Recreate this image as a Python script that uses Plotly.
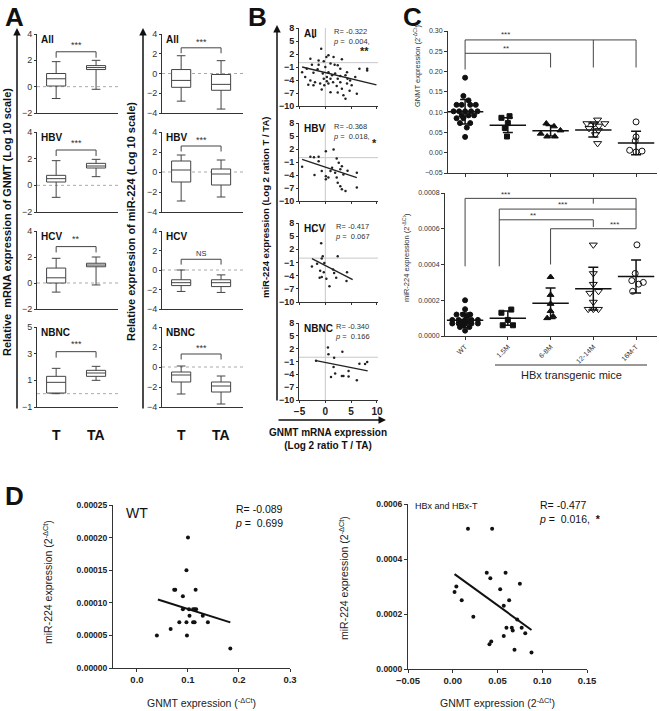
import plotly.graph_objects as go

W, H = 660, 711
FONT = "Liberation Sans, Arial, sans-serif"
INK = "#222222"

# ================= DATA =================
# Panel A : box statistics (All, HBV, HCV, NBNC)
a_groups = ["All", "HBV", "HCV", "NBNC"]
a_cats = ["T", "TA"]
gnmt_T_low = [-0.9, -0.9, -0.7, 0.0]
gnmt_T_q1 = [0.05, 0.25, 0.0, 0.05]
gnmt_T_med = [0.6, 0.5, 0.4, 0.85]
gnmt_T_q3 = [1.0, 0.75, 1.15, 1.3]
gnmt_T_high = [1.9, 1.85, 1.9, 1.9]
gnmt_TA_low = [-0.2, 0.65, -0.15, 1.0]
gnmt_TA_q1 = [1.3, 1.3, 1.25, 1.3]
gnmt_TA_med = [1.45, 1.45, 1.38, 1.55]
gnmt_TA_q3 = [1.6, 1.65, 1.52, 1.75]
gnmt_TA_high = [2.0, 1.95, 2.0, 2.05]
gnmt_sig = ["***", "***", "**", "***"]

mir_T_low = [-2.8, -2.9, -2.2, -2.7]
mir_T_q1 = [-1.4, -1.0, -1.6, -1.5]
mir_T_med = [-0.7, 0.2, -1.3, -0.8]
mir_T_q3 = [0.4, 1.1, -1.0, -0.5]
mir_T_high = [1.8, 1.7, 0.0, 0.1]
mir_TA_low = [-3.6, -2.5, -2.3, -3.7]
mir_TA_q1 = [-1.7, -1.3, -1.7, -2.5]
mir_TA_med = [-1.1, -0.2, -1.3, -1.9]
mir_TA_q3 = [-0.1, 0.3, -1.0, -1.5]
mir_TA_high = [1.3, 1.2, -0.5, -0.9]
mir_sig = ["***", "***", "NS", "***"]

# Panel B : scatter (log2 ratio T/TA)
b_all_x = [-2.3, -0.8, 0.2, 0.6, 1.6, 3.2, -0.3, -1.3, -2.6, -3.6, -4.5, -2.3, -1.5, 0.0, 1.0, 1.8, 2.4, 2.9, 0.6, 1.3,
           1.9, 2.9, 3.9, 4.3, 4.8, 5.8, 6.6, 8.1, -3.9, -2.9, -2.0, -1.0, -0.2, 0.6, 1.5, 2.2, 3.2, 4.2, 5.1, 6.1,
           3.5, 3.9, 2.4, 1.0, -0.7, -2.3, -3.3, 0.3, -0.5, 2.4, 4.2, -2.9, -1.3, 1.0, 0.3, -0.3, 2.9, 4.7, 8.1]
b_all_y = [5.9, 3.2, 1.3, 1.7, 1.3, 0.8, 0.3, -0.5, -0.5, -1.4, -2.2, -2.3, -1.5, -1.0, -0.2, -0.5, -0.6, -1.4, -2.2, -2.9,
           -2.5, -3.1, -2.9, -3.7, -4.1, -3.3, -1.4, -1.4, -3.3, -4.1, -4.5, -4.8, -5.2, -4.8, -4.5, -5.4, -6.0, -4.8, -5.2, -7.2,
           -7.5, -8.3, -6.9, -6.8, -6.2, -5.2, -5.1, -3.3, -2.5, -3.7, -2.2, 0.9, 0.5, -3.7, -4.3, -3.7, -4.5, -6.5, -1.8]
b_hbv_x = [-4.5, -2.9, -2.2, -1.3, -2.1, -1.3, 0.1, 1.6, 0.1, 0.1, 1.0, 1.3, 2.2, 2.6, 2.9, 3.2, 1.9, 2.2, 2.4, 2.9,
           3.2, 3.9, 4.3, 6.1, 6.1, 3.5, 0.6, -0.7]
b_hbv_y = [-2.1, 0.2, 0.1, 0.2, -4.0, -0.8, 1.5, 1.9, -4.3, -5.0, -3.1, -2.3, -0.2, -1.2, -2.7, -2.0, -3.5, -4.6, -5.8, -6.6,
           -7.3, -7.7, -3.0, -3.5, -6.9, -3.9, -4.6, -3.1]
b_hcv_x = [-2.3, -0.8, -0.5, -0.7, 2.4, -2.6, -1.6, -0.2, 1.5, 1.7, -1.0, -0.3, -1.1, -0.7, 0.2, 0.8, 2.1, 4.2, 4.1]
b_hcv_y = [6.2, 3.4, 0.4, -0.1, 0.4, -1.9, -1.3, -1.1, -2.6, -3.4, -2.9, -3.2, -4.5, -4.3, -4.7, -6.4, -4.5, -3.2, -5.2]
b_nbnc_x = [0.5, 0.6, 3.3, 1.7, -1.8, 1.6, 1.9, 1.1, 3.2, 3.5, 4.5, 4.5, 6.1, 6.6, 7.7, 8.1]
b_nbnc_y = [2.3, 0.7, 1.3, -0.1, -0.8, -2.3, -3.8, -4.6, -4.4, -4.4, -3.2, -4.5, -5.4, -1.5, -1.6, -1.1]
b_fit_x0 = [-4.5, -4.5, -2.6, -1.8]
b_fit_y0 = [-1.0, -0.4, -0.1, -0.8]
b_fit_x1 = [9.9, 6.1, 5.3, 8.2]
b_fit_y1 = [-5.1, -4.6, -4.9, -3.2]
b_r = ["-0.322", "-0.368", "-0.417", "-0.340"]
b_p = ["0.004,", "0.018,", "0.067", "0.166"]
b_sig = ["**", "*", "", ""]

# Panel C : mouse groups
c_groups = ["WT", "1.5M", "6-8M", "12-14M", "16M-T"]
gnmt_wt = [0.185, 0.140, 0.129, 0.118, 0.118, 0.118, 0.118, 0.102, 0.102, 0.102, 0.102, 0.102, 0.092, 0.092, 0.092,
           0.085, 0.085, 0.073, 0.073, 0.062, 0.039]
gnmt_wt_dx = [0.0, -0.04, 0.08, -0.2, -0.08, 0.12, 0.25, -0.27, -0.14, 0.0, 0.14, 0.29, -0.08, 0.08, 0.21,
              -0.2, -0.04, -0.12, 0.12, 0.04, 0.0]
gnmt_15m = [0.090, 0.086, 0.073, 0.061, 0.040]
gnmt_15m_dx = [0.04, -0.15, 0.0, -0.07, -0.02]
gnmt_68m = [0.072, 0.065, 0.055, 0.047, 0.040, 0.040]
gnmt_68m_dx = [-0.1, 0.08, 0.23, -0.23, -0.08, 0.1]
gnmt_1214m = [0.081, 0.072, 0.072, 0.072, 0.066, 0.060, 0.055, 0.045, 0.023]
gnmt_1214m_dx = [0.1, -0.15, 0.03, 0.27, 0.13, -0.1, 0.12, 0.05, 0.1]
gnmt_16mt = [0.076, 0.039, 0.029, 0.006, 0.002, 0.004]
gnmt_16mt_dx = [0.0, 0.0, -0.02, -0.15, 0.0, 0.14]
gnmt_mean = [0.101, 0.068, 0.054, 0.056, 0.024]
gnmt_sd = [0.030, 0.018, 0.013, 0.017, 0.029]

mir_wt = [0.0002, 0.00015, 0.00012, 0.00012, 0.00012, 0.00011, 0.00009, 0.00009, 0.00009, 0.00009, 0.00009,
          0.00008, 0.00008, 0.00007, 0.00007, 0.00007, 0.00007, 0.00007, 0.00006, 0.00005, 0.00005, 0.00003]
mir_wt_dx = [0.0, 0.0, -0.2, -0.05, 0.12, 0.05, -0.3, -0.15, 0.0, 0.15, 0.3, -0.08, 0.08, -0.3, -0.15, 0.0,
             0.15, 0.3, -0.05, -0.12, 0.1, 0.0]
mir_15m = [0.000148, 0.00013, 0.00009, 0.00006, 0.00006]
mir_15m_dx = [0.08, -0.15, 0.0, -0.12, 0.12]
mir_68m = [0.00033, 0.00023, 0.00018, 0.00014, 0.00011, 0.0001]
mir_68m_dx = [0.0, 0.0, 0.0, 0.0, 0.06, -0.08]
mir_1214m = [0.00051, 0.00035, 0.00029, 0.00025, 0.00024, 0.00019, 0.00015, 0.00015, 0.00015]
mir_1214m_dx = [0.0, 0.0, 0.0, 0.12, -0.08, 0.0, -0.12, 0.0, 0.12]
mir_16mt = [0.00051, 0.00035, 0.00031, 0.0003, 0.00029, 0.00025]
mir_16mt_dx = [0.02, -0.02, -0.1, 0.17, 0.06, -0.08]
mir_mean = [0.000088, 0.0001, 0.000183, 0.000265, 0.000333]
mir_sd = [0.00004, 0.00004, 0.000085, 0.00012, 0.000092]

# Panel D : correlation in mice
d_wt_x = [0.1, 0.097, 0.075, 0.073, 0.115, 0.09, 0.09, 0.102, 0.113, 0.116, 0.11, 0.103, 0.129, 0.083, 0.097,
          0.11, 0.113, 0.139, 0.066, 0.039, 0.098, 0.183]
d_wt_y = [0.0002, 0.00015, 0.00012, 0.00012, 0.00012, 0.00011, 0.00009, 0.00009, 0.00009, 0.00009, 0.00009,
          0.00008, 0.00008, 0.00007, 0.00007, 0.00007, 0.00007, 0.00007, 0.00006, 0.00005, 0.00005, 0.00003]
d_wt_fit_x = [0.041, 0.183]
d_wt_fit_y = [0.000105, 0.00007]
d_hbx_x = [0.017, 0.044, 0.002, 0.004, 0.010, 0.023, 0.038, 0.042, 0.059, 0.053, 0.057, 0.063, 0.075, 0.060,
           0.066, 0.067, 0.057, 0.072, 0.077, 0.081, 0.041, 0.043, 0.069, 0.088]
d_hbx_y = [0.00051, 0.00051, 0.00028, 0.0003, 0.00025, 0.00019, 0.00035, 0.00033, 0.00035, 0.00029, 0.00023,
           0.00025, 0.00031, 0.00015, 0.00015, 0.00014, 0.00012, 0.00018, 0.00015, 0.00013, 0.00009, 0.0001,
           0.00007, 0.00006]
d_hbx_fit_x = [0.002, 0.088]
d_hbx_fit_y = [0.000345, 0.000142]

# ================= FIGURE =================
fig = go.Figure()
lay = {}
shapes = []
ann = []


def px(x):
    return x / W


def py(y):
    return 1 - y / H


def axis_pair(n, x0, x1, top, bot, xr, yr, xkw=None, ykw=None):
    k = "" if n == 1 else str(n)
    base = dict(showgrid=False, zeroline=False, showline=True, linecolor="#333", linewidth=1,
                ticks="outside", ticklen=3, tickwidth=1, tickcolor="#333", automargin=False,
                tickfont=dict(family=FONT, size=9, color="#333"), fixedrange=True)
    xa = dict(base, domain=[px(x0), px(x1)], range=xr, anchor="y" + k)
    ya = dict(base, domain=[py(bot), py(top)], range=yr, anchor="x" + k)
    xa.update(xkw or {})
    ya.update(ykw or {})
    lay["xaxis" + k] = xa
    lay["yaxis" + k] = ya
    return "x" + k, "y" + k


def text(x, y, s, size=9, bold=False, xref="paper", yref="paper", xanchor="center", yanchor="middle",
         angle=0, color=INK, align="center"):
    ann.append(dict(x=x, y=y, xref=xref, yref=yref, text=s, showarrow=False, xanchor=xanchor,
                    yanchor=yanchor, textangle=angle, align=align,
                    font=dict(family=FONT, size=size, color=color, weight="bold" if bold else "normal")))


def arrow(x, y, ax, ay):
    ann.append(dict(x=px(x), y=py(y), xref="paper", yref="paper", ax=ax, ay=ay, axref="pixel", ayref="pixel",
                    text="", showarrow=True, arrowhead=2, arrowsize=1, arrowwidth=1.5, arrowcolor="#111"))


def line(xref, yref, x0, y0, x1, y1, color="#444", width=1, dash="solid", layer="above"):
    shapes.append(dict(type="line", xref=xref, yref=yref, x0=x0, y0=y0, x1=x1, y1=y1, layer=layer,
                       line=dict(color=color, width=width, dash=dash)))


# ---------- Panel letters ----------
for lx, ly, letter in [(3, 0, "A"), (246, 0, "B"), (401, 0, "C"), (3, 479, "D")]:
    text(px(lx), py(ly), letter, size=26, bold=True, xanchor="left", yanchor="top", color="#111")

# ---------- Panel A ----------
a_top = [34, 132, 231, 327]
a_bot = [113, 212, 309, 407]
a_sets = [
    (1, 37, 118, [gnmt_T_low, gnmt_T_q1, gnmt_T_med, gnmt_T_q3, gnmt_T_high],
     [gnmt_TA_low, gnmt_TA_q1, gnmt_TA_med, gnmt_TA_q3, gnmt_TA_high], gnmt_sig,
     [2.65, 2.65, 2.8, 3.15], 0.45),
    (5, 162, 243, [mir_T_low, mir_T_q1, mir_T_med, mir_T_q3, mir_T_high],
     [mir_TA_low, mir_TA_q1, mir_TA_med, mir_TA_q3, mir_TA_high], mir_sig,
     [2.6, 2.6, 1.1, 1.3], 0.55),
]
for start, x0, x1, tstats, tastats, sigs, blev, drop in a_sets:
    for i in range(4):
        n = start + i
        if start == 1:
            yr = [-1, 5] if i == 3 else [-2, 4]
            tv = [-1, 1, 3, 5] if i == 3 else [-2, 0, 2, 4]
        else:
            yr = [-4, 4]
            tv = [-4, -2, 0, 2, 4]
        xr_, yr_ = axis_pair(n, x0, x1, a_top[i], a_bot[i], [-0.48, 1.55], yr,
                             xkw=dict(showticklabels=False, ticks=""),
                             ykw=dict(tickvals=tv, ticklen=2, tickfont=dict(family=FONT, size=9, color="#333")))
        fig.add_trace(go.Box(x=[0, 1], lowerfence=[tstats[0][i], tastats[0][i]],
                             q1=[tstats[1][i], tastats[1][i]], median=[tstats[2][i], tastats[2][i]],
                             q3=[tstats[3][i], tastats[3][i]], upperfence=[tstats[4][i], tastats[4][i]],
                             xaxis=xr_, yaxis=yr_, fillcolor="white", line=dict(color="#444", width=1),
                             width=0.48, whiskerwidth=0.45, boxpoints=False, hoverinfo="skip",
                             showlegend=False))
        line(xr_ + " domain", yr_, 0, 0, 1, 0, color="#aaa", width=1, dash="dot", layer="below")
        b = blev[i]
        shapes.append(dict(type="path", xref=xr_, yref=yr_,
                           path=f"M 0,{b - drop} L 0,{b} L 1,{b} L 1,{b - drop}",
                           line=dict(color="#444", width=1)))
        text(0.5, b + 0.55, sigs[i], size=9 if sigs[i] != "NS" else 7.5, xref=xr_, yref=yr_, color="#333")
        text(0.03, 0.93, a_groups[i], size=10, bold=True, xref=xr_ + " domain", yref=yr_ + " domain",
             xanchor="left", color="#111")
    for j, c in enumerate(a_cats):
        text(j, py(435), c, size=14, bold=True, xref="x" + str(start + 3), color="#111")

arrow(17, 28, 0, 382)
text(px(7), py(222), "Relative  mRNA expression of GNMT (Log 10 scale)", size=11, bold=True, angle=-90,
     color="#111")
arrow(143, 28, 0, 382)
text(px(131), py(222), "Relative expression of miR-224 (Log 10 scale)", size=11, bold=True, angle=-90,
     color="#111")

# ---------- Panel B ----------
b_top = [28, 123, 223, 323]
b_bot = [106, 201, 302, 400]
b_xs = [b_all_x, b_hbv_x, b_hcv_x, b_nbnc_x]
b_ys = [b_all_y, b_hbv_y, b_hcv_y, b_nbnc_y]
b_star_pos = [(0.835, 0.70), (0.96, 0.74), (0.9, 0.7), (0.9, 0.7)]
for i in range(4):
    n = 9 + i
    last = i == 3
    xr_, yr_ = axis_pair(n, 299, 378, b_top[i], b_bot[i], [-5.1, 10.2], [-10, 8],
                         xkw=dict(tickvals=[-5, 0, 5, 10], showticklabels=last, ticklen=2,
                                  tickfont=dict(family=FONT, size=10, color="#222", weight="bold")),
                         ykw=dict(tickvals=[-10, -7, -4, -1, 2, 5, 8], ticklen=2,
                                  tickfont=dict(family=FONT, size=9, color="#222", weight="bold")))
    line(xr_ + " domain", yr_, 0, 0, 1, 0, color="#c8c8c8", width=1, layer="below")
    line(xr_, yr_ + " domain", 0, 0, 0, 1, color="#c8c8c8", width=1, layer="below")
    fig.add_trace(go.Scatter(x=b_xs[i], y=b_ys[i], mode="markers", xaxis=xr_, yaxis=yr_,
                             marker=dict(size=2.5, color="#222"), showlegend=False, hoverinfo="skip"))
    fig.add_trace(go.Scatter(x=[b_fit_x0[i], b_fit_x1[i]], y=[b_fit_y0[i], b_fit_y1[i]], mode="lines",
                             xaxis=xr_, yaxis=yr_, line=dict(color="#222", width=1.3), showlegend=False,
                             hoverinfo="skip"))
    text(0.04, 0.93, a_groups[i], size=10, bold=True, xref=xr_ + " domain", yref=yr_ + " domain",
         xanchor="left", color="#111")
    text(0.93, 1.04, f"R= {b_r[i]}<br><i>p</i> =  {b_p[i]}", size=7.5, xref=xr_ + " domain",
         yref=yr_ + " domain", xanchor="right", yanchor="top", align="left", color="#333")
    if b_sig[i]:
        sx, sy = b_star_pos[i]
        text(sx, sy, b_sig[i], size=11, bold=True, xref=xr_ + " domain", yref=yr_ + " domain",
             color="#222")

arrow(277, 25, 0, 377)
arrow(386, 420, -109, 0)
text(px(265), py(208), "miR-224 expression (Log 2 ration T / TA)", size=9.5, bold=True, angle=-90,
     color="#111")
text(px(328), py(439), "GNMT mRNA expression<br>(Log 2 ratio T / TA)", size=10, bold=True, color="#111")

# ---------- Panel C ----------
c_tick = dict(family=FONT, size=7, color="#333")
xt, yt = axis_pair(13, 448, 657, 31, 173, [-0.4, 4.49], [-0.05, 0.30],
                   xkw=dict(tickvals=[0, 1, 2, 3, 4], showticklabels=False, ticklen=3),
                   ykw=dict(tickvals=[-0.05, 0, 0.05, 0.1, 0.15, 0.2, 0.25, 0.3], tickformat=".2f",
                            tickfont=c_tick, ticklen=3))
xb, yb = axis_pair(14, 445, 657, 193, 336, [-0.47, 4.49], [0, 0.0008],
                   xkw=dict(tickvals=[0, 1, 2, 3, 4], ticktext=c_groups, tickangle=-45, tickfont=c_tick,
                            ticklen=3),
                   ykw=dict(tickvals=[0, 0.0002, 0.0004, 0.0006, 0.0008], tickformat=".4f",
                            tickfont=c_tick, ticklen=3))

c_symbols = ["circle", "square", "triangle-up", "triangle-down-open", "circle-open"]
c_sizes = [5, 5, 6, 7, 6]
gnmt_sets = [(gnmt_wt, gnmt_wt_dx), (gnmt_15m, gnmt_15m_dx), (gnmt_68m, gnmt_68m_dx),
             (gnmt_1214m, gnmt_1214m_dx), (gnmt_16mt, gnmt_16mt_dx)]
mir_sets = [(mir_wt, mir_wt_dx), (mir_15m, mir_15m_dx), (mir_68m, mir_68m_dx),
            (mir_1214m, mir_1214m_dx), (mir_16mt, mir_16mt_dx)]
for (sets, means, sds, xa, ya) in [(gnmt_sets, gnmt_mean, gnmt_sd, xt, yt), (mir_sets, mir_mean, mir_sd, xb, yb)]:
    for g, (vals, dxs) in enumerate(sets):
        fig.add_trace(go.Scatter(x=[g + d for d in dxs], y=vals, mode="markers", xaxis=xa, yaxis=ya,
                                 marker=dict(symbol=c_symbols[g], size=c_sizes[g], color="#111",
                                             line=dict(color="#111", width=1)),
                                 showlegend=False, hoverinfo="skip", cliponaxis=False))
    fig.add_trace(go.Scatter(x=list(range(5)), y=means, mode="markers", xaxis=xa, yaxis=ya,
                             marker=dict(symbol="line-ew-open", size=26, color="#111",
                                         line=dict(color="#111", width=1.5)),
                             error_y=dict(type="data", array=sds, visible=True, width=5, thickness=1.5,
                                          color="#111"),
                             showlegend=False, hoverinfo="skip", cliponaxis=False))

for (x0, x1, y) in [(0, 4, 0.278), (0, 2, 0.245)]:
    line(xt, yt, x0, y, x1, y)
for (x, y0, y1) in [(0, 0.278, 0.205), (3, 0.278, 0.21), (4, 0.278, 0.21), (2, 0.245, 0.21)]:
    line(xt, yt, x, y0, x, y1)
text(0.95, 0.291, "***", size=8, xref=xt, yref=yt, color="#333")
text(0.95, 0.258, "**", size=8, xref=xt, yref=yt, color="#333")

for (x0, x1, y) in [(0, 4, 0.00077), (0.8, 4, 0.00071), (0.8, 3, 0.00065), (2, 4, 0.0006)]:
    line(xb, yb, x0, y, x1, y)
for (x, y0, y1) in [(0, 0.00077, 0.00039), (3, 0.00077, 0.00074), (4, 0.00077, 0.0006),
                    (0.8, 0.00071, 0.00039), (3, 0.00065, 0.00061), (2, 0.0006, 0.0004)]:
    line(xb, yb, x, y0, x, y1)
text(0.95, 0.000792, "***", size=8, xref=xb, yref=yb, color="#333")
text(2.27, 0.000733, "***", size=8, xref=xb, yref=yb, color="#333")
text(1.6, 0.000672, "**", size=8, xref=xb, yref=yb, color="#333")
text(3.5, 0.000622, "***", size=8, xref=xb, yref=yb, color="#333")

text(px(417), py(66), "GNMT expression (2<sup>-ΔCt</sup>)", size=7.5, angle=-90, color="#333")
text(px(406), py(258), "miR-224 expression (2<sup>-ΔCt</sup>)", size=7.5, angle=-90, color="#333")
shapes.append(dict(type="line", xref="paper", yref="paper", x0=px(495), x1=px(647), y0=py(365), y1=py(365),
                   line=dict(color="#333", width=1)))
text(px(571), py(375), "HBx transgenic mice", size=11, color="#222")

# ---------- Panel D ----------
d_tick = dict(family=FONT, size=8.5, color="#222", weight="bold")
xl, yl = axis_pair(15, 113, 290, 505, 668, [-0.047, 0.3], [0, 0.00025],
                   xkw=dict(tickvals=[0, 0.1, 0.2, 0.3], tickformat=".1f", tickfont=dict(d_tick, size=9.5)),
                   ykw=dict(tickvals=[0, 0.00005, 0.0001, 0.00015, 0.0002, 0.00025], tickformat=".5f",
                            tickfont=d_tick))
fig.add_trace(go.Scatter(x=d_wt_x, y=d_wt_y, mode="markers", xaxis=xl, yaxis=yl,
                         marker=dict(size=4, color="#111"), showlegend=False, hoverinfo="skip"))
fig.add_trace(go.Scatter(x=d_wt_fit_x, y=d_wt_fit_y, mode="lines", xaxis=xl, yaxis=yl,
                         line=dict(color="#111", width=2), showlegend=False, hoverinfo="skip"))
text(px(124), py(513), "WT", size=14, xanchor="left", color="#111")
text(px(233), py(516), "R= -0.089<br><i>p</i> =  0.699", size=10.5, xanchor="left", align="left", color="#111")
text(px(47), py(582), "miR-224 expression (2<sup>-ΔCt</sup>)", size=10.5, angle=-90, color="#222")
text(px(201), py(702), "GNMT expression (<sup>-ΔCt</sup>)", size=10.5, color="#222")

xr2, yr2 = axis_pair(16, 408, 587, 504, 669, [-0.05, 0.15], [0, 0.0006],
                     xkw=dict(tickvals=[-0.05, 0, 0.05, 0.1, 0.15], tickformat=".2f", tickfont=dict(d_tick, size=9.5)),
                     ykw=dict(tickvals=[0, 0.0002, 0.0004, 0.0006], tickformat=".4f", tickfont=d_tick))
fig.add_trace(go.Scatter(x=d_hbx_x, y=d_hbx_y, mode="markers", xaxis=xr2, yaxis=yr2,
                         marker=dict(size=4, color="#111"), showlegend=False, hoverinfo="skip"))
fig.add_trace(go.Scatter(x=d_hbx_fit_x, y=d_hbx_fit_y, mode="lines", xaxis=xr2, yaxis=yr2,
                         line=dict(color="#111", width=2), showlegend=False, hoverinfo="skip"))
text(px(413), py(506), "HBx and HBx-T", size=9, xanchor="left", color="#111")
text(px(537), py(512), "R= -0.477<br><i>p</i> =  0.016,  <b>*</b>", size=10.5, xanchor="left", align="left",
     color="#111")
text(px(343), py(578), "miR-224 expression (2<sup>-ΔCt</sup>)", size=10.5, angle=-90, color="#222")
text(px(497), py(702), "GNMT expression (2<sup>-ΔCt</sup>)", size=10.5, color="#222")

fig.update_layout(template="none", width=W, height=H, margin=dict(l=0, r=0, t=0, b=0, pad=0),
                  paper_bgcolor="white", plot_bgcolor="white", showlegend=False,
                  font=dict(family=FONT, color=INK), shapes=shapes, annotations=ann, **lay)
fig.write_html("out.html", config={"displayModeBar": False, "staticPlot": True},
               post_script="document.body.style.margin='0';document.body.style.overflow='hidden';")
